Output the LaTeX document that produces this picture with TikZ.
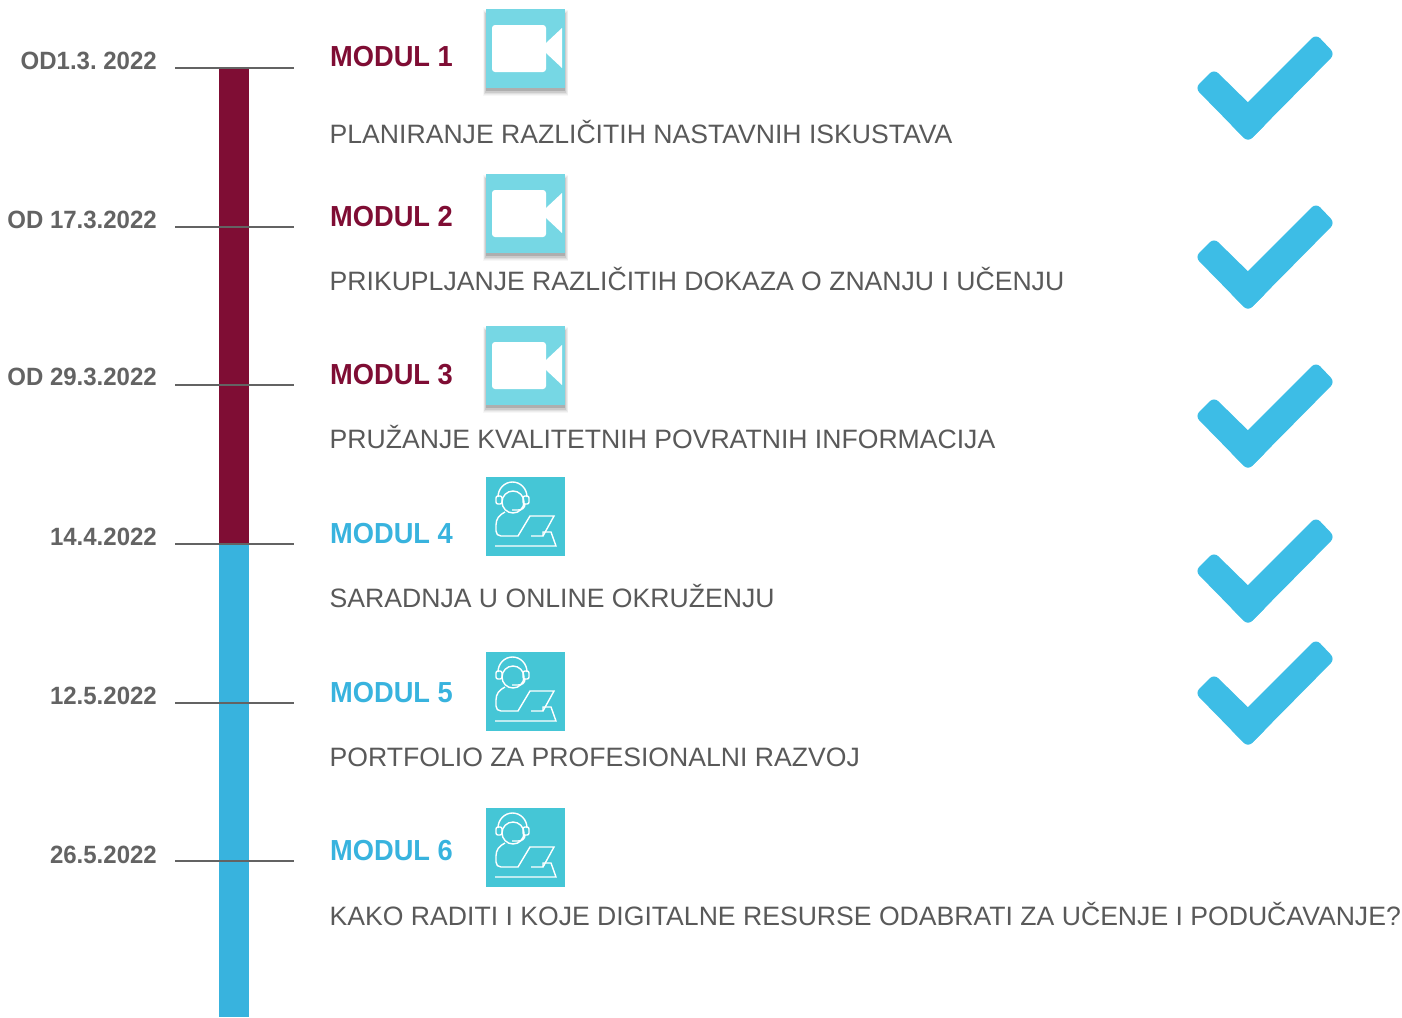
\documentclass[tikz,border=0pt]{standalone}
\usepackage{fontspec}
\setmainfont{Liberation Sans}
\newfontfamily\labelfont[FakeStretch=0.94]{Liberation Sans}
\newfontfamily\datefont[FakeStretch=0.96]{Liberation Sans}
\definecolor{maroonbar}{HTML}{7F0D34}
\definecolor{bluebar}{HTML}{38B3DE}
\definecolor{tickgray}{HTML}{636363}
\definecolor{desctext}{HTML}{595959}
\definecolor{videobox}{HTML}{76D7E4}
\definecolor{agentbox}{HTML}{45C6D6}
\definecolor{checkblue}{HTML}{3DBDE6}
\tikzset{
  tick/.style={draw=tickgray,line width=1.5pt},
  datelabel/.style={anchor=base east,inner sep=0pt,text=tickgray,font=\fontsize{25}{25}\datefont\bfseries\frenchspacing},
  modulered/.style={anchor=base west,inner sep=0pt,text=maroonbar,font=\fontsize{29}{29}\labelfont\bfseries},
  moduleblue/.style={anchor=base west,inner sep=0pt,text=bluebar,font=\fontsize{29}{29}\labelfont\bfseries},
  desc/.style={anchor=base west,inner sep=0pt,text=desctext,font=\fontsize{26.6}{27}\selectfont},
  agentline/.style={draw=white,line width=1.4pt},
  videoicon/.pic={
    \fill[black,opacity=0.03] (-3,1) rectangle (82,87);
    \fill[black,opacity=0.04] (-2.5,2) rectangle (81.5,86);
    \fill[black,opacity=0.06] (-2,3) rectangle (81,85);
    \fill[black,opacity=0.09] (-1,4) rectangle (80,84);
    \fill[black,opacity=0.14] (0,5) rectangle (79,82);
    \fill[videobox] (0,0) rectangle (79,79);
    \fill[white,rounded corners=3] (6,16) rectangle (60,63);
    \fill[white] (60,34) -- (76,19) -- (76,59) -- (60,44) -- cycle;
  },
  agenticon/.pic={
    \fill[agentbox] (0,0) rectangle (79,79);
    \draw[agentline] (27,25) circle (11);
    \draw[agentline] (12,20) arc (180:360:14.5 and 15);
    \draw[agentline,rounded corners=2] (10,19) rectangle (16,27);
    \draw[agentline,rounded corners=2] (37,19) rectangle (43,27);
    \draw[agentline] (26,33) -- (32,33) .. controls (36,33) and (39,31) .. (39,27);
    \draw[agentline] (19,35) .. controls (13,38) and (10,42) .. (10,48) -- (10,54) .. controls (10,57) and (12,59) .. (15,59) -- (32,59) -- (44,39) -- (68,39) -- (57,59) -- (45,59);
    \draw[agentline] (57,59) -- (57,55) -- (65,55) -- (70,69) -- (9,69);
  },
  checkmark/.pic={
    \fill[checkblue,rounded corners=6] (1316,34) -- (1335,54) -- (1248,142) -- (1228,122) -- cycle;
    \fill[checkblue,rounded corners=6] (1214,69) -- (1268,122) -- (1248,142) -- (1195,88) -- cycle;
  }
}
\begin{document}
\begin{tikzpicture}[x=1pt,y=-1pt]
\useasboundingbox (0,0) rectangle (1402,1017);

\fill[maroonbar] (219,68) rectangle (249,544);
\fill[bluebar] (219,544) rectangle (249,1017);

\draw[tick] (175,68) -- (294,68);
\draw[tick] (175,227) -- (294,227);
\draw[tick] (175,385) -- (294,385);
\draw[tick] (175,544) -- (294,544);
\draw[tick] (175,703) -- (294,703);
\draw[tick] (175,861) -- (294,861);

\node[datelabel] (date1) at (157,69.5) {OD1.3. 2022};
\node[datelabel] (date2) at (157,228.5) {OD 17.3.2022};
\node[datelabel] (date3) at (157,385.5) {OD 29.3.2022};
\node[datelabel] (date4) at (157,545.5) {14.4.2022};
\node[datelabel] (date5) at (157,704.5) {12.5.2022};
\node[datelabel] (date6) at (157,863.5) {26.5.2022};

\node[modulered] (mod1) at (330,66.5) {MODUL 1};
\node[modulered] (mod2) at (330,226.5) {MODUL 2};
\node[modulered] (mod3) at (330,384.5) {MODUL 3};
\node[moduleblue] (mod4) at (330,543.5) {MODUL 4};
\node[moduleblue] (mod5) at (330,702.5) {MODUL 5};
\node[moduleblue] (mod6) at (330,860.5) {MODUL 6};

\node[desc] (desc1) at (329.5,143) {PLANIRANJE RAZLIČITIH NASTAVNIH ISKUSTAVA};
\node[desc] (desc2) at (329.5,290) {PRIKUPLJANJE RAZLIČITIH DOKAZA O ZNANJU I UČENJU};
\node[desc] (desc3) at (329.5,448) {PRUŽANJE KVALITETNIH POVRATNIH INFORMACIJA};
\node[desc] (desc4) at (329.5,607) {SARADNJA U ONLINE OKRUŽENJU};
\node[desc] (desc5) at (329.5,766) {PORTFOLIO ZA PROFESIONALNI RAZVOJ};
\node[desc] (desc6) at (329.5,925) {KAKO RADITI I KOJE DIGITALNE RESURSE ODABRATI ZA UČENJE I PODUČAVANJE?};

\pic at (486,9) {videoicon};
\pic at (486,174) {videoicon};
\pic at (486,326) {videoicon};
\pic at (486,477) {agenticon};
\pic at (486,652) {agenticon};
\pic at (486,808) {agenticon};

\pic at (0,0) {checkmark};
\pic at (0,169) {checkmark};
\pic at (0,328) {checkmark};
\pic at (0,483) {checkmark};
\pic at (0,605) {checkmark};
\end{tikzpicture}
\end{document}
